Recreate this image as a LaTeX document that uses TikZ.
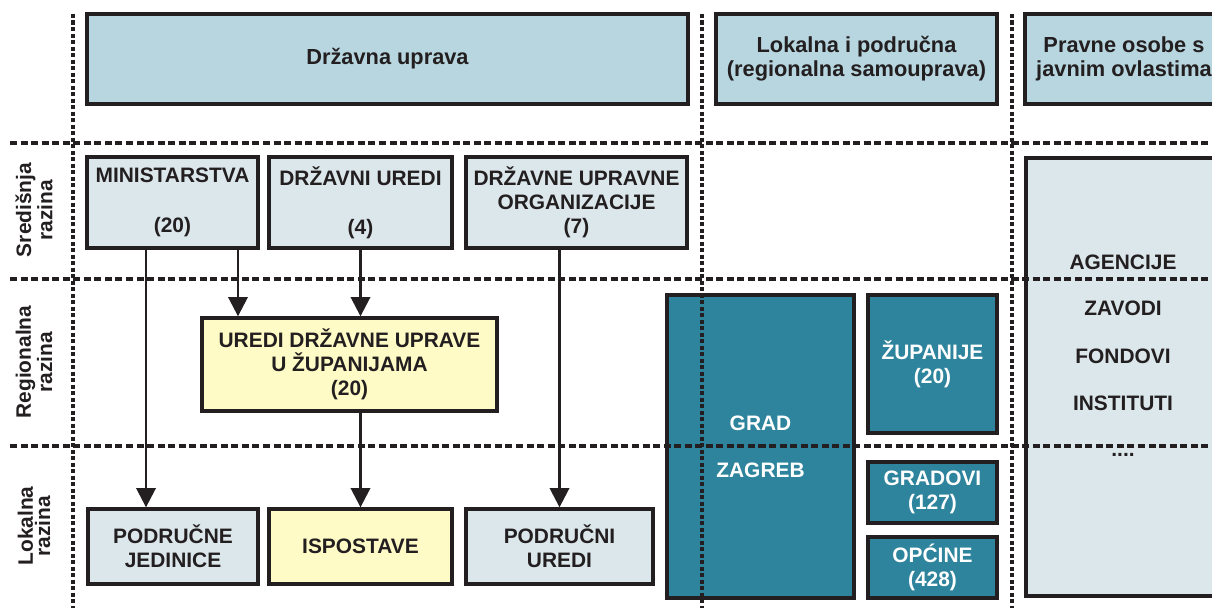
\documentclass[tikz,border=0pt]{standalone}
\usepackage{fontspec}
\setmainfont{Liberation Sans}
\usetikzlibrary{arrows.meta}

\definecolor{headblue}{RGB}{183,214,223}
\definecolor{paleblue}{RGB}{220,231,235}
\definecolor{paleyellow}{RGB}{255,251,198}
\definecolor{cityteal}{RGB}{46,132,156}
\definecolor{inkgray}{RGB}{35,31,32}

\newcommand{\boxfont}{\fontsize{11.9}{13.6}\selectfont\bfseries}
\newcommand{\headfont}{\fontsize{12.4}{13.8}\selectfont\bfseries}
\newcommand{\levelfont}{\fontsize{11.9}{9.8}\selectfont\bfseries}

\tikzset{
  boxsize/.style 2 args={minimum width=#1*0.02cm, minimum height=#2*0.02cm},
  box/.style={draw=inkgray, line width=1.9pt, inner sep=1pt, align=center, text=inkgray, font=\boxfont},
  headbox/.style={box, fill=headblue, font=\headfont},
  greybox/.style={box, fill=paleblue},
  yellowbox/.style={box, fill=paleyellow},
  citybox/.style={box, fill=cityteal, text=white},
  plaintext/.style={text=inkgray, font=\boxfont, inner sep=1pt},
  levellabel/.style={rotate=90, align=center, text=inkgray, font=\levelfont},
  arr/.style={draw=inkgray, line width=1.5pt, -{Triangle[width=11pt,length=11pt]}},
  hgrid/.style={draw=inkgray, line width=1.8pt, dash pattern=on 4pt off 2pt},
  vgrid/.style={draw=inkgray, line width=1.8pt, dash pattern=on 2.4pt off 1.3pt}
}

\begin{document}
\begin{tikzpicture}[x=0.02cm, y=-0.02cm]
    \useasboundingbox (0,0) rectangle (1212,608);

    % column headings
    \node[headbox, boxsize={601}{90}] (drz) at (387.5,59) {Državna uprava};
    \node[headbox, boxsize={281}{90}] (lok) at (856.5,59) {Lokalna i područna\\(regionalna samouprava)};
    \node[headbox, boxsize={198}{90}] (prav) at (1124,59) {Pravne osobe s\\javnim ovlastima};

    % state administration
    \node[greybox, boxsize={171}{91}] (min) at (172.5,202.5) {MINISTARSTVA\\[14.5pt](20)};
    \node[greybox, boxsize={183}{91}] (du) at (360.5,202.5) {DRŽAVNI UREDI\\[14.5pt](4)};
    \node[greybox, boxsize={221}{91}] (duo) at (576.5,202.5) {DRŽAVNE UPRAVNE\\ORGANIZACIJE\\(7)};
    \node[yellowbox, boxsize={295}{93}] (ured) at (349.5,364.5) {UREDI DRŽAVNE UPRAVE\\U ŽUPANIJAMA\\(20)};
    \node[greybox, boxsize={170}{75}] (pj) at (173,546.5) {PODRUČNE\\JEDINICE};
    \node[yellowbox, boxsize={183}{75}] (isp) at (360.5,546.5) {ISPOSTAVE};
    \node[greybox, boxsize={187}{75}] (pu) at (559.5,546.5) {PODRUČNI\\UREDI};

    % self-government
    \node[citybox, boxsize={187}{303}] (gz) at (760.5,446.5) {GRAD\\[13.1pt]ZAGREB};
    \node[citybox, boxsize={129}{138}] (zup) at (932.5,364) {ŽUPANIJE\\(20)};
    \node[citybox, boxsize={129}{61}] (gra) at (932.5,492.5) {GRADOVI\\(127)};
    \node[citybox, boxsize={129}{61}] (opc) at (932.5,567.5) {OPĆINE\\(428)};

    % legal persons
    \node[greybox, boxsize={197}{438}] (pravbox) at (1124.5,377) {};
    \node[plaintext] (agen) at (1123,262) {AGENCIJE};
    \node[plaintext] (zav) at (1123,308) {ZAVODI};
    \node[plaintext] (fond) at (1123,356) {FONDOVI};
    \node[plaintext] (inst) at (1123,403) {INSTITUTI};
    \node[plaintext] (dots) at (1123,455) {....};

    % levels
    \node[levellabel] (sred) at (34,210) {Središnja\\razina};
    \node[levellabel] (regr) at (34,362) {Regionalna\\razina};
    \node[levellabel] (lokr) at (34,526) {Lokalna\\razina};

    \draw[arr] ([xshift=-0.53cm]min.south) -- ([xshift=-0.53cm]min.south |- pj.north);
    \draw[arr] ([xshift=1.31cm]min.south) -- ([xshift=1.31cm]min.south |- ured.north);
    \draw[arr] (du.south) -- (du.south |- ured.north);
    \draw[arr] (isp.north |- ured.south) -- (isp.north);
    \draw[arr] (pu.north |- duo.south) -- (pu.north);

    % grid
    \draw[hgrid] (10,143) -- (1212,143);
    \draw[hgrid] (10,279) -- (1212,279);
    \draw[hgrid] (10,446) -- (1212,446);
    \draw[vgrid] (73,14) -- (73,608);
    \draw[vgrid] (702,14) -- (702,608);
    \draw[vgrid] (1012,14) -- (1012,608);
\end{tikzpicture}
\end{document}
